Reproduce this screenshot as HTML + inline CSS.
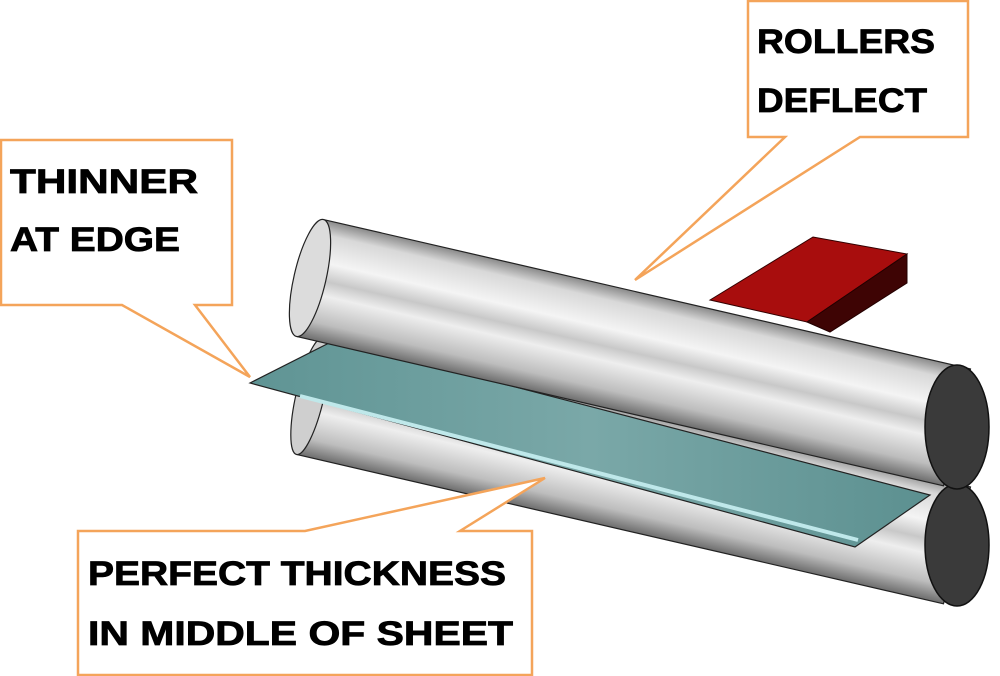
<!DOCTYPE html>
<html><head><style>html,body{margin:0;padding:0;background:#fff}svg{display:block}</style></head>
<body>
<svg width="1000" height="676" viewBox="0 0 1000 676" xmlns="http://www.w3.org/2000/svg">
<defs>
<linearGradient id="cyl" x1="0" y1="0" x2="0" y2="1">
<stop offset="0" stop-color="#8a8a8a"/>
<stop offset="0.12" stop-color="#d8d8d8"/>
<stop offset="0.35" stop-color="#f4f4f4"/>
<stop offset="0.5" stop-color="#c8c8c8"/>
<stop offset="0.62" stop-color="#eeeeee"/>
<stop offset="0.85" stop-color="#bdbdbd"/>
<stop offset="1" stop-color="#6d6d6d"/>
</linearGradient>
<linearGradient id="sheet" x1="0" y1="0" x2="1" y2="0">
<stop offset="0" stop-color="#5f9494"/>
<stop offset="0.5" stop-color="#7aa8a8"/>
<stop offset="1" stop-color="#5c9090"/>
</linearGradient>
</defs>

<!-- red block -->
<polygon points="710,300 813,237 907,254 807,322" fill="#a80d0d" stroke="#300" stroke-width="1"/>
<polygon points="907,254 907,283 830,332 807,322" fill="#3e0404" stroke="#200" stroke-width="1"/>

<!-- bottom roller -->
<g transform="translate(310,396) rotate(13)">
<rect x="0" y="-60" width="664" height="120" fill="url(#cyl)" stroke="#222" stroke-width="1.2"/>
<ellipse cx="0" cy="0" rx="14" ry="60" fill="#cfcfcf" stroke="#222" stroke-width="1.2"/>
</g>
<ellipse cx="957" cy="545" rx="32" ry="61" fill="#3a3a3a" stroke="#111" stroke-width="1.5"/>

<!-- sheet -->
<polygon points="250,383 335,340 930,495 855,547" fill="url(#sheet)" stroke="#222" stroke-width="1.2"/>
<polyline points="300,396 858,540" fill="none" stroke="#bfe8ea" stroke-width="4"/>

<!-- top roller -->
<g transform="translate(310,278) rotate(13)">
<rect x="0" y="-60" width="664" height="120" fill="url(#cyl)" stroke="#222" stroke-width="1.2"/>
<ellipse cx="0" cy="0" rx="16" ry="60" fill="#dcdcdc" stroke="#222" stroke-width="1.2"/>
</g>
<ellipse cx="957" cy="427" rx="32" ry="62" fill="#3a3a3a" stroke="#111" stroke-width="1.5"/>

<!-- callouts -->
<g fill="#fff" stroke="#f4a45a" stroke-width="2.5">
<polygon points="1,140 232,140 232,305 195,305 250,377 122,305 1,305"/>
<polygon points="748,1 968,1 968,137 860,137 635,280 785,137 748,137"/>
<polygon points="78,531 305,531 545,478 460,531 532,531 532,675 78,675"/>
</g>
<g font-family="'Liberation Sans',sans-serif" font-weight="bold" font-size="34" fill="#000" stroke="#000" stroke-width="0.8">
<text x="10" y="193" textLength="188" lengthAdjust="spacingAndGlyphs">THINNER</text>
<text x="10" y="251" textLength="170" lengthAdjust="spacingAndGlyphs">AT EDGE</text>
<text x="757" y="53" textLength="178" lengthAdjust="spacingAndGlyphs">ROLLERS</text>
<text x="757" y="112" textLength="170" lengthAdjust="spacingAndGlyphs">DEFLECT</text>
<text x="88" y="585" textLength="418" lengthAdjust="spacingAndGlyphs">PERFECT THICKNESS</text>
<text x="88" y="645" textLength="425" lengthAdjust="spacingAndGlyphs">IN MIDDLE OF SHEET</text>
</g>
</svg>
</body></html>
